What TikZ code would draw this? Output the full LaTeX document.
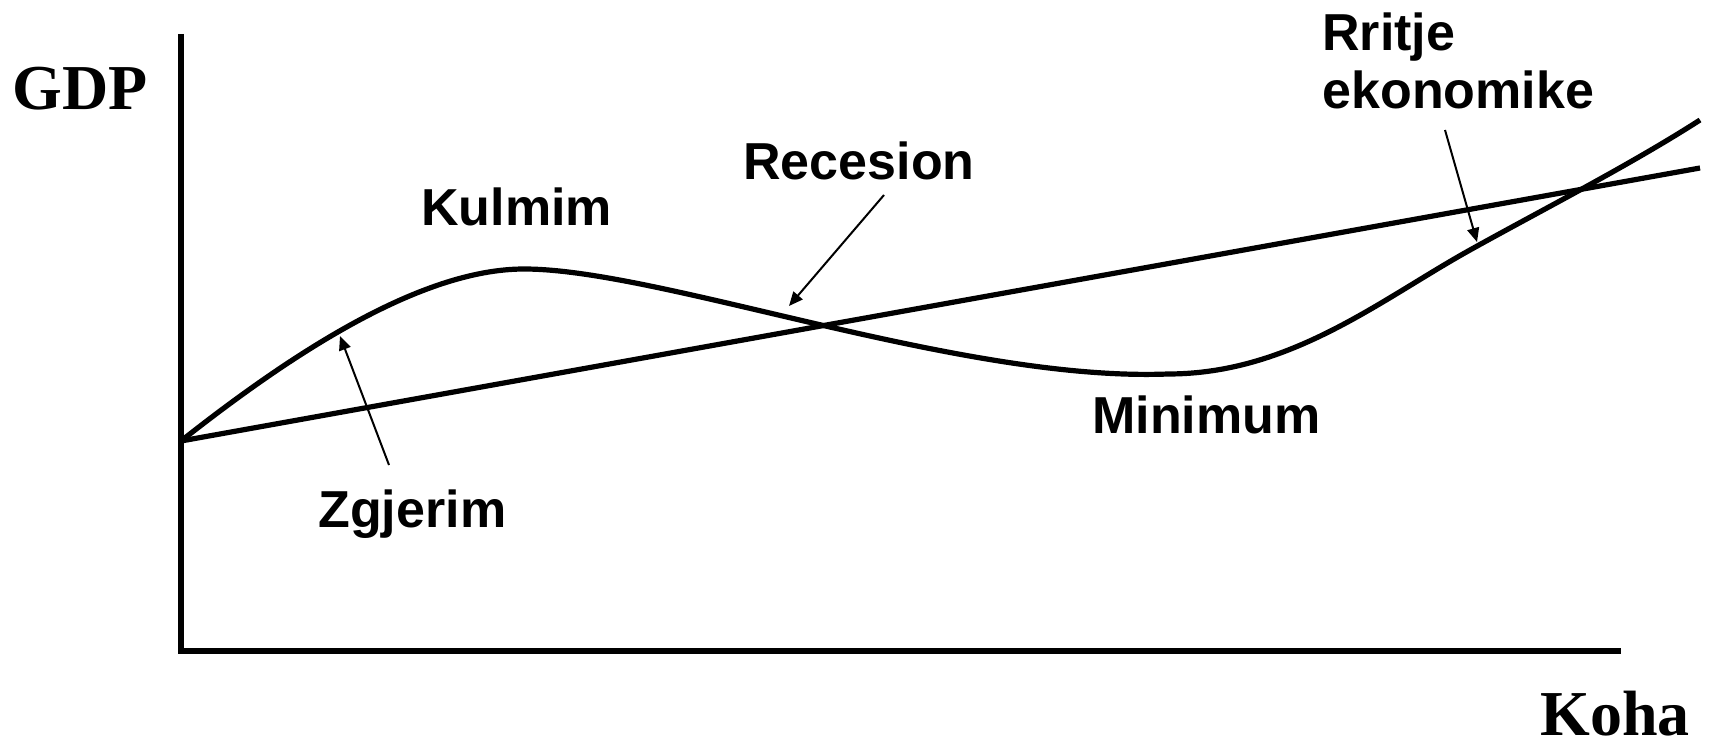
\documentclass[tikz,border=0pt]{standalone}
\usepackage{fontspec}
\setmainfont{Liberation Serif}
\newfontfamily\arialb{Liberation Sans}
\usetikzlibrary{arrows.meta}
\begin{document}
\begin{tikzpicture}[x=0.5pt,y=-0.5pt,
  lbl/.style={font=\arialb\bfseries\fontsize{26}{26.5}\selectfont, inner sep=0pt, anchor=base west},
  axlbl/.style={font=\bfseries\fontsize{32}{34}\selectfont, inner sep=0pt, anchor=base west},
  axisline/.style={line width=3pt},
  curveline/.style={line width=2.6pt, line join=round},
  ptr/.style={line width=1pt, -{Triangle[length=7pt,width=6pt]}}]
\useasboundingbox (0,0) rectangle (1712,743);

% axes
\coordinate (ytop) at (181,34);
\coordinate (orig) at (181,651);
\coordinate (xend) at (1621,651);
\draw[axisline] (ytop) -- (orig) -- (xend);

% axis labels
\node[axlbl] (gdp) at (12,110) {GDP};
\node[axlbl] (koha) at (1540,735) {Koha};

% trend line
\coordinate (t0) at (181,441);
\coordinate (t1) at (1700,168);
\draw[curveline] (t0) -- (t1);

% business cycle curve
\coordinate (c0) at (181,441);
\coordinate (cpeak) at (524,269);
\coordinate (cmin) at (1168,374);
\coordinate (crise) at (1470,250);
\coordinate (cend) at (1700,120);
\draw[curveline] (c0) .. controls (290,355) and (420,269) .. (cpeak)
  .. controls (660,269) and (960,382) .. (cmin)
  .. controls (1290,374) and (1380,300) .. (crise)
  .. controls (1540,211) and (1630,165) .. (cend);

% labels
\node[lbl] (kulmim) at (421,226) {Kulmim};
\node[lbl] (recesion) at (743,180) {Recesion};
\node[lbl] (zgjerim) at (318,527) {Zgjerim};
\node[lbl] (minimum) at (1092,433) {Minimum};
\node[lbl] (rritje) at (1322,51) {Rritje};
\node[lbl] (ekonomike) at (1322,109) {ekonomike};

% pointer arrows
\coordinate (zgTail) at (389,465);
\coordinate (zgTip) at (340,336);
\draw[ptr] (zgTail) -- (zgTip);

\coordinate (reTail) at (884,195);
\coordinate (reTip) at (789,306);
\draw[ptr] (reTail) -- (reTip);

\coordinate (rrTail) at (1445,130);
\coordinate (rrTip) at (1477,242);
\draw[ptr] (rrTail) -- (rrTip);
\end{tikzpicture}
\end{document}
